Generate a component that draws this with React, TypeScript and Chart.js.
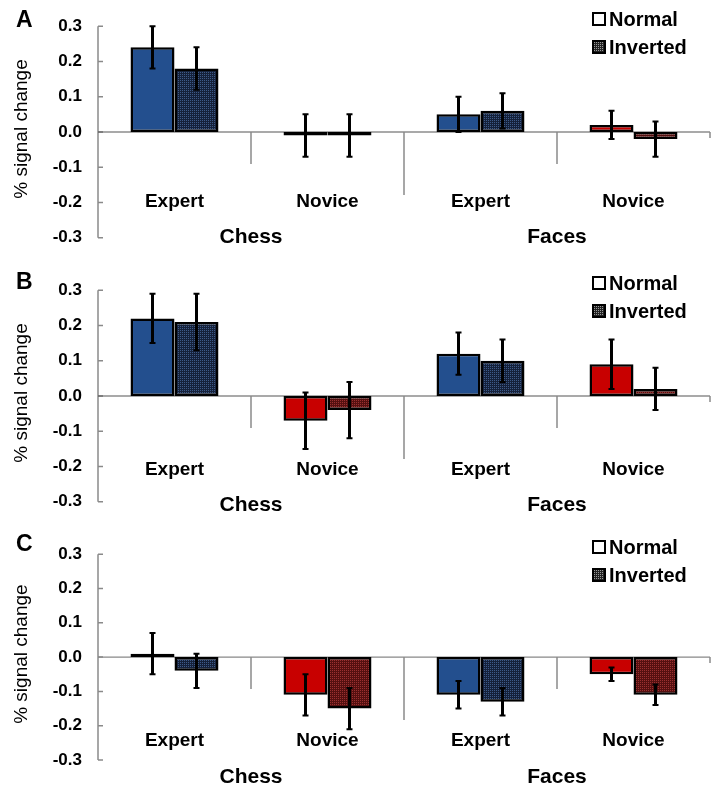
import React, { useEffect, useRef } from "react";
import { Chart, registerables } from "chart.js";
Chart.register(...registerables);

const categories = ["Expert", "Novice", "Expert", "Novice"];
const groups = ["Chess", "Faces"];
const seriesNames = ["Normal", "Inverted"];
const yTicks = [-0.3, -0.2, -0.1, 0, 0.1, 0.2, 0.3];
const panelLetters = ["A", "B", "C"];

const normalA = [0.24, -0.01, 0.05, 0.02];
const invertedA = [0.18, -0.01, 0.06, -0.02];
const normalErrA = [0.06, 0.06, 0.05, 0.04];
const invertedErrA = [0.06, 0.06, 0.05, 0.05];

const normalB = [0.22, -0.07, 0.12, 0.09];
const invertedB = [0.21, -0.04, 0.1, 0.02];
const normalErrB = [0.07, 0.08, 0.06, 0.07];
const invertedErrB = [0.08, 0.08, 0.06, 0.06];

const normalC = [0.01, -0.11, -0.11, -0.05];
const invertedC = [-0.04, -0.15, -0.13, -0.11];
const normalErrC = [0.06, 0.06, 0.04, 0.02];
const invertedErrC = [0.05, 0.06, 0.04, 0.03];

const FONT = '"Liberation Sans", Arial, Helvetica, sans-serif';
const BLUE = "#234f8e";
const RED = "#c80000";
const AXIS = "#8a8a8a";

const panels = [
  { letter: panelLetters[0], normal: normalA, inverted: invertedA, normalErr: normalErrA, invertedErr: invertedErrA,
    top: 0, padTop: 16, padBottom: 23, labelY: 202, groupY: 237, letterY: 21, zeroColor: "#555" },
  { letter: panelLetters[1], normal: normalB, inverted: invertedB, normalErr: normalErrB, invertedErr: invertedErrB,
    top: 264, padTop: 15, padBottom: 25, labelY: 206, groupY: 241, letterY: 19, zeroColor: "#555" },
  { letter: panelLetters[2], normal: normalC, inverted: invertedC, normalErr: normalErrC, invertedErr: invertedErrC,
    top: 528, padTop: 13, padBottom: 32, labelY: 213, groupY: 249, letterY: 17, zeroColor: "#888" },
];

function makePattern(ctx: CanvasRenderingContext2D, base: string, dot: string) {
  const c = document.createElement("canvas");
  c.width = 2;
  c.height = 2;
  const g = c.getContext("2d")!;
  g.fillStyle = base;
  g.fillRect(0, 0, 2, 2);
  g.fillStyle = dot;
  g.fillRect(0, 0, 1, 1);
  return ctx.createPattern(c, "repeat") as CanvasPattern;
}

function PanelChart({ panel }: { panel: any }) {
  const ref = useRef<HTMLCanvasElement>(null);
  useEffect(() => {
    const canvas = ref.current!;
    const ctx = canvas.getContext("2d")!;
    const invBlue = makePattern(ctx, "#15213a", "#3d5a88");
    const invRed = makePattern(ctx, "#551010", "#9a3030");
    const legendPat = makePattern(ctx, "#222", "#999");

    const overlay = {
      id: "overlay",
      beforeDatasetsDraw(chart: any) {
        const c = chart.ctx;
        const { left, right, top, bottom } = chart.chartArea;
        const y = chart.scales.y;
        c.save();
        c.strokeStyle = AXIS;
        c.lineWidth = 1.5;
        c.beginPath();
        c.moveTo(left, top);
        c.lineTo(left, bottom);
        yTicks.forEach((v) => {
          const py = y.getPixelForValue(v);
          c.moveTo(left, py);
          c.lineTo(left + 5, py);
        });
        c.stroke();
        const y0 = y.getPixelForValue(0);
        c.strokeStyle = panel.zeroColor;
        c.lineWidth = 1.2;
        c.beginPath();
        c.moveTo(left, y0);
        c.lineTo(right, y0);
        c.stroke();
        c.strokeStyle = AXIS;
        c.lineWidth = 1.5;
        const w = (right - left) / categories.length;
        const lens = [32, 63, 32, 6];
        c.beginPath();
        for (let k = 1; k <= categories.length; k++) {
          const px = left + w * k;
          c.moveTo(px, y0);
          c.lineTo(px, y0 + lens[k - 1]);
        }
        c.stroke();
        c.restore();
      },
      afterDatasetsDraw(chart: any) {
        const c = chart.ctx;
        const { left, right, top, bottom } = chart.chartArea;
        const y = chart.scales.y;
        c.save();
        // error bars
        chart.data.datasets.forEach((ds: any, di: number) => {
          const meta = chart.getDatasetMeta(di);
          meta.data.forEach((el: any, i: number) => {
            const v = ds.data[i];
            const e = ds.errors[i];
            const yt = y.getPixelForValue(v + e);
            const yb = y.getPixelForValue(v - e);
            c.strokeStyle = "#000";
            c.lineWidth = 3;
            c.beginPath();
            c.moveTo(el.x, yt);
            c.lineTo(el.x, yb);
            c.stroke();
            c.lineWidth = 2;
            c.beginPath();
            c.moveTo(el.x - 3, yt);
            c.lineTo(el.x + 3, yt);
            c.moveTo(el.x - 3, yb);
            c.lineTo(el.x + 3, yb);
            c.stroke();
          });
        });
        // category labels
        const w = (right - left) / categories.length;
        c.fillStyle = "#000";
        c.textAlign = "center";
        c.textBaseline = "middle";
        c.font = `bold 19px ${FONT}`;
        categories.forEach((lab, i) => {
          c.fillText(lab, left + w * (i + 0.5), panel.labelY);
        });
        c.font = `bold 21px ${FONT}`;
        groups.forEach((g, i) => {
          c.fillText(g, left + w * (2 * i + 1), panel.groupY);
        });
        // legend
        c.font = `bold 20px ${FONT}`;
        c.textAlign = "left";
        const lx = 593;
        const ly = [19, 47];
        seriesNames.forEach((name, i) => {
          c.lineWidth = 2;
          c.strokeStyle = "#000";
          c.fillStyle = i === 0 ? "#fff" : legendPat;
          c.fillRect(lx, ly[i] - 6, 12, 12);
          c.strokeRect(lx, ly[i] - 6, 12, 12);
          c.fillStyle = "#000";
          c.fillText(name, lx + 16, ly[i] + 1);
        });
        // panel letter
        c.font = `bold 23px ${FONT}`;
        c.fillText(panel.letter, 16, panel.letterY);
        // y title
        c.translate(22, (top + bottom) / 2 - 3);
        c.rotate(-Math.PI / 2);
        c.textAlign = "center";
        c.font = `19px ${FONT}`;
        c.fillText("% signal change", 0, 0);
        c.restore();
      },
    };

    const colorsFor = (inv: boolean) =>
      categories.map((cat) => (cat === "Expert" ? (inv ? invBlue : BLUE) : inv ? invRed : RED));

    const chart = new Chart(canvas, {
      type: "bar",
      data: {
        labels: categories,
        datasets: [
          {
            label: seriesNames[0],
            data: panel.normal,
            errors: panel.normalErr,
            backgroundColor: colorsFor(false),
            borderColor: "#000",
            borderWidth: 2.5,
            borderSkipped: false,
            categoryPercentage: 0.575,
            barPercentage: 1,
          } as any,
          {
            label: seriesNames[1],
            data: panel.inverted,
            errors: panel.invertedErr,
            backgroundColor: colorsFor(true),
            borderColor: "#000",
            borderWidth: 2.5,
            borderSkipped: false,
            categoryPercentage: 0.575,
            barPercentage: 1,
          } as any,
        ],
      },
      options: {
        responsive: false,
        animation: false,
        devicePixelRatio: 1,
        layout: { padding: { top: panel.padTop, bottom: panel.padBottom, left: 0, right: 11 } },
        plugins: { legend: { display: false }, tooltip: { enabled: false } },
        scales: {
          x: { display: false },
          y: {
            min: -0.3,
            max: 0.3,
            afterFit: (s: any) => {
              s.width = 98;
            },
            afterBuildTicks: (s: any) => {
              s.ticks = yTicks.map((v) => ({ value: v }));
            },
            ticks: {
              padding: 16,
              color: "#000",
              font: { family: FONT, size: 17, weight: "bold" },
              callback: (v: any) => (Math.abs(v) < 1e-9 ? "0.0" : Number(v).toFixed(1)),
            },
            grid: { display: false, drawTicks: false },
            border: { display: false },
          },
        },
      },
      plugins: [overlay],
    } as any);
    return () => chart.destroy();
  }, []);
  return (
    <canvas
      ref={ref}
      width={721}
      height={264}
      style={{ position: "absolute", left: 0, top: panel.top, width: 721, height: 264, display: "block" }}
    />
  );
}

export default function App() {
  return (
    <div style={{ position: "absolute", left: 0, top: 0, width: 721, height: 792, background: "#fff" }}>
      {panels.map((p) => (
        <PanelChart key={p.letter} panel={p} />
      ))}
    </div>
  );
}
